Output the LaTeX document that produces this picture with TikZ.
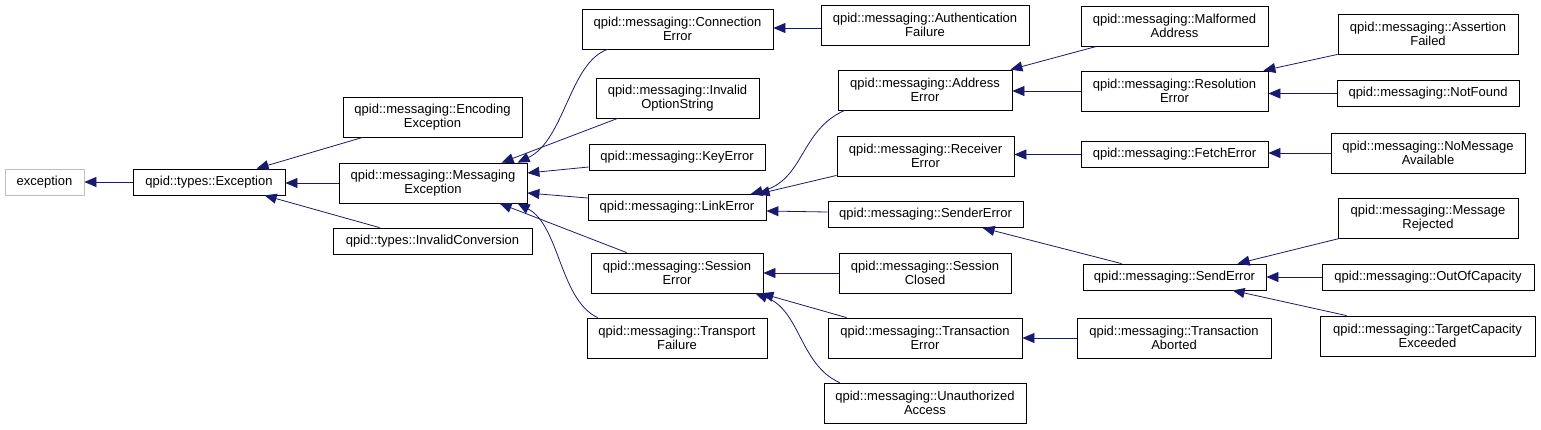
\documentclass[tikz,border=0pt]{standalone}
\usepackage{fontspec}
\setmainfont{Liberation Sans}
\usetikzlibrary{arrows.meta}
\definecolor{edgeblue}{HTML}{191970}
\definecolor{graybox}{HTML}{BFBFBF}
\tikzset{
  box/.style={draw=black, line width=0.8pt, fill=white, inner sep=0pt, align=center,
    font=\fontsize{13}{14.5}\selectfont},
  one/.style={box, minimum height=26pt},
  two/.style={box, minimum height=40pt},
  edge/.style={draw=edgeblue, line width=0.8pt, -{Triangle[length=12pt,width=10pt,fill=edgeblue]}}
}
\begin{document}
\begin{tikzpicture}[x=1pt,y=-1pt]
\useasboundingbox (0,0) rectangle (1541,429);
% column 1-2
\node[one, draw=graybox, minimum width=79pt] (exc) at (44.5,182) {exception};
\node[one, minimum width=152pt] (texc) at (209,182) {qpid::types::Exception};
\node[two, minimum width=179pt] (enc) at (432.5,117) {qpid::messaging::Encoding\\Exception};
\node[two, minimum width=188pt] (mexc) at (433,183) {qpid::messaging::Messaging\\Exception};
\node[one, minimum width=199pt] (invconv) at (432.5,241) {qpid::types::InvalidConversion};
% column 3
\node[two, minimum width=191pt] (conn) at (677.5,29) {qpid::messaging::Connection\\Error};
\node[two, minimum width=163pt] (invopt) at (677.5,98) {qpid::messaging::Invalid\\OptionString};
\node[one, minimum width=176pt] (key) at (677,157) {qpid::messaging::KeyError};
\node[one, minimum width=178pt] (link) at (677,207.5) {qpid::messaging::LinkError};
\node[two, minimum width=172pt] (sess) at (677,273) {qpid::messaging::Session\\Error};
\node[two, minimum width=180pt] (transp) at (677,338) {qpid::messaging::Transport\\Failure};
% column 4
\node[two, minimum width=208pt] (auth) at (925,25) {qpid::messaging::Authentication\\Failure};
\node[two, minimum width=174pt] (addr) at (925,90) {qpid::messaging::Address\\Error};
\node[two, minimum width=177pt] (recv) at (925.5,156) {qpid::messaging::Receiver\\Error};
\node[one, minimum width=195pt] (sender) at (925.5,214.5) {qpid::messaging::SenderError};
\node[two, minimum width=172pt] (sclosed) at (925,273) {qpid::messaging::Session\\Closed};
\node[two, minimum width=194pt] (txerr) at (925,338) {qpid::messaging::Transaction\\Error};
\node[two, minimum width=202pt] (unauth) at (925,403) {qpid::messaging::Unauthorized\\Access};
% column 5
\node[two, minimum width=187pt] (malf) at (1174.5,26) {qpid::messaging::Malformed\\Address};
\node[two, minimum width=187pt] (resol) at (1174.5,91) {qpid::messaging::Resolution\\Error};
\node[one, minimum width=187pt] (fetch) at (1174.5,154.5) {qpid::messaging::FetchError};
\node[one, minimum width=183pt] (senderr) at (1174.5,277) {qpid::messaging::SendError};
\node[two, minimum width=194pt] (txab) at (1174,338) {qpid::messaging::Transaction\\Aborted};
% column 6
\node[two, minimum width=180pt] (assert) at (1428,34) {qpid::messaging::Assertion\\Failed};
\node[one, minimum width=182pt] (notfound) at (1428,93.5) {qpid::messaging::NotFound};
\node[two, minimum width=194pt] (nomsg) at (1428,153) {qpid::messaging::NoMessage\\Available};
\node[two, minimum width=180pt] (msgrej) at (1428,218) {qpid::messaging::Message\\Rejected};
\node[one, minimum width=212pt] (outcap) at (1428,277) {qpid::messaging::OutOfCapacity};
\node[two, minimum width=215pt] (tgtcap) at (1427.5,336) {qpid::messaging::TargetCapacity\\Exceeded};
% edges
\draw[edge] (texc.west) -- (exc.east);
\draw[edge] ([shift={(20,0)}]enc.south west) -- ([shift={(124,0)}]texc.north west);
\draw[edge] (mexc.west) -- (mexc.west -| texc.east);
\draw[edge] ([shift={(47,0)}]invconv.north west) -- ([shift={(132,0)}]texc.south west);
\draw[edge] ([shift={(26,0)}]conn.south west) .. controls ([shift={(-12,13)}]conn.south west) and ([shift={(226,-63)}]mexc.south west) .. ([shift={(179,0)}]mexc.north west);
\draw[edge] ([shift={(22,0)}]invopt.south west) -- ([shift={(163,0)}]mexc.north west);
\draw[edge] ([shift={(0,10)}]key.west) -- ([shift={(0,-10)}]mexc.east);
\draw[edge] ([shift={(0,-9.5)}]link.west) -- ([shift={(0,10)}]mexc.east);
\draw[edge] ([shift={(36,0)}]sess.north west) -- ([shift={(161,0)}]mexc.south west);
\draw[edge] ([shift={(11,0)}]transp.north west) .. controls ([shift={(-27,-18)}]transp.north west) and ([shift={(221,22)}]mexc.south west) .. ([shift={(179,0)}]mexc.south west);
\draw[edge] ([shift={(0,3)}]auth.west) -- ([shift={(0,-1)}]conn.east);
\draw[edge] ([shift={(7,0)}]addr.south west) .. controls ([shift={(-38,20)}]addr.south west) and ([shift={(217,-14)}]link.north west) .. ([shift={(163,0)}]link.north west);
\draw[edge] ([shift={(0,-1)}]recv.south west) -- ([shift={(170,0)}]link.north west);
\draw[edge] ([shift={(0,-2.5)}]sender.west) -- ([shift={(0,3.5)}]link.east);
\draw[edge] ([shift={(16,0)}]malf.south west) -- ([shift={(-2,0)}]addr.north east);
\draw[edge] (resol.west) -- (resol.west -| addr.east);
\draw[edge] (fetch.west) -- (fetch.west -| recv.east);
\draw[edge] ([shift={(39,0)}]senderr.north west) -- ([shift={(155,0)}]sender.south west);
\draw[edge] (sclosed.west) -- (sclosed.west -| sess.east);
\draw[edge] ([shift={(19,0)}]txerr.north west) -- ([shift={(-2,0)}]sess.south east);
\draw[edge] ([shift={(16,0)}]unauth.north west) .. controls ([shift={(-24,-18)}]unauth.north west) and ([shift={(37,17)}]sess.south east) .. ([shift={(-8,0)}]sess.south east);
\draw[edge] (txab.west) -- (txab.west -| txerr.east);
\draw[edge] (assert.south west) -- ([shift={(-5,0)}]resol.north east);
\draw[edge] (notfound.west) -- (notfound.west -| resol.east);
\draw[edge] (nomsg.west) -- (nomsg.west -| fetch.east);
\draw[edge] ([shift={(2,0)}]msgrej.south west) -- ([shift={(155,0)}]senderr.north west);
\draw[edge] (outcap.west) -- (outcap.west -| senderr.east);
\draw[edge] ([shift={(27,0)}]tgtcap.north west) -- ([shift={(150,0)}]senderr.south west);
\end{tikzpicture}
\end{document}
